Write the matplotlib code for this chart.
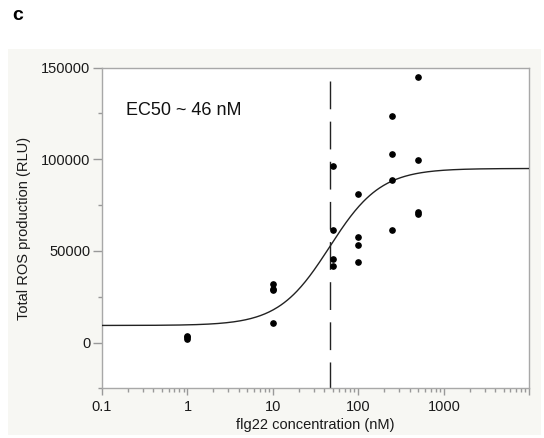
import numpy as np
import matplotlib
matplotlib.use("Agg")
import matplotlib.pyplot as plt
from matplotlib.patches import Rectangle
from matplotlib.ticker import FixedLocator, NullFormatter, FixedFormatter

plt.rcParams['font.family'] = ['Liberation Sans', 'DejaVu Sans']

# Measured ROS totals per flg22 concentration
conc_nm = [1, 1, 1,
           10, 10, 10, 10,
           50, 50, 50, 50,
           100, 100, 100, 100,
           250, 250, 250, 250,
           500, 500, 500, 500]
ros_rlu = [3700, 2900, 1800,
           32200, 29100, 28400, 10700,
           96200, 61300, 45500, 41800,
           80900, 57700, 53100, 43900,
           123500, 103100, 88900, 61600,
           144800, 99800, 71300, 70400]

# Four-parameter logistic fit
fit_bottom = 9300
fit_top = 95000
ec50_nm = 46
hill = 1.45

x_ticks = [0.1, 1, 10, 100, 1000, 10000]
x_tick_labels = ['0.1', '1', '10', '100', '1000', '']
y_ticks = [0, 50000, 100000, 150000]
y_tick_labels = ['0', '50000', '100000', '150000']

W, H = 544, 438
fig = plt.figure(figsize=(W / 100, H / 100), dpi=100)
fig.patch.set_facecolor('white')

# Light panel behind the plot
fig.patches.append(Rectangle((7.5 / W, 1 - 435 / H), (541 - 7.5) / W, (435 - 49) / H,
                             transform=fig.transFigure, facecolor='#f7f7f3',
                             edgecolor='none', zorder=-10))

ax = fig.add_axes([102 / W, 1 - 388.3 / H, (529.3 - 102) / W, (388.3 - 67.7) / H])
ax.set_zorder(1)
ax.set_facecolor('white')
ax.set_xscale('log')
ax.set_xlim(0.1, 10000)
ax.set_ylim(-25000, 150000)

xs = np.logspace(-1, 4, 400)
fit = fit_bottom + (fit_top - fit_bottom) / (1 + (ec50_nm / xs) ** hill)
ax.plot(xs, fit, color='#222222', lw=1.0, zorder=3)

ax.plot([ec50_nm, ec50_nm], [142900, -25000], color='#222222', lw=1.0,
        dashes=(20, 8.9), zorder=2)

ax.plot(conc_nm, ros_rlu, 'o', color='black', markersize=3.8, zorder=4)

ax.text(0.19, 126600, 'EC50 ~ 46 nM', fontsize=13, va='center', ha='left',
        color='#111111')

# Ticks
ax.xaxis.set_major_locator(FixedLocator(x_ticks))
ax.xaxis.set_major_formatter(FixedFormatter(x_tick_labels))
minor_x = [m * 10.0 ** e for e in range(-1, 4) for m in range(2, 10)]
ax.xaxis.set_minor_locator(FixedLocator(minor_x))
ax.xaxis.set_minor_formatter(NullFormatter())
ax.yaxis.set_major_locator(FixedLocator(y_ticks))
ax.yaxis.set_major_formatter(FixedFormatter(y_tick_labels))
ax.yaxis.set_minor_locator(FixedLocator([-25000, 25000, 75000, 125000]))

ax.tick_params(axis='both', which='major', labelsize=10.5, colors='#999999',
               labelcolor='#1a1a1a', width=1.0)
ax.tick_params(axis='x', which='major', length=5, pad=3.5)
ax.tick_params(axis='x', which='minor', length=3, colors='#999999', width=1.0)
ax.tick_params(axis='y', which='major', length=6.5, pad=2)
ax.tick_params(axis='y', which='minor', length=3, colors='#999999', width=1.0)

for s in ax.spines.values():
    s.set_color('#a8a8a8')
    s.set_linewidth(1.0)

ax.set_xlabel('flg22 concentration (nM)', fontsize=10.5, color='#1a1a1a', labelpad=3)
ax.set_ylabel('Total ROS production (RLU)', fontsize=10.5, color='#1a1a1a', labelpad=7)

fig.text(12 / W, 1 - 20 / H, 'c', fontsize=14, fontweight='bold', ha='left',
         va='baseline', color='black')

fig.savefig('out.png', dpi=100)
